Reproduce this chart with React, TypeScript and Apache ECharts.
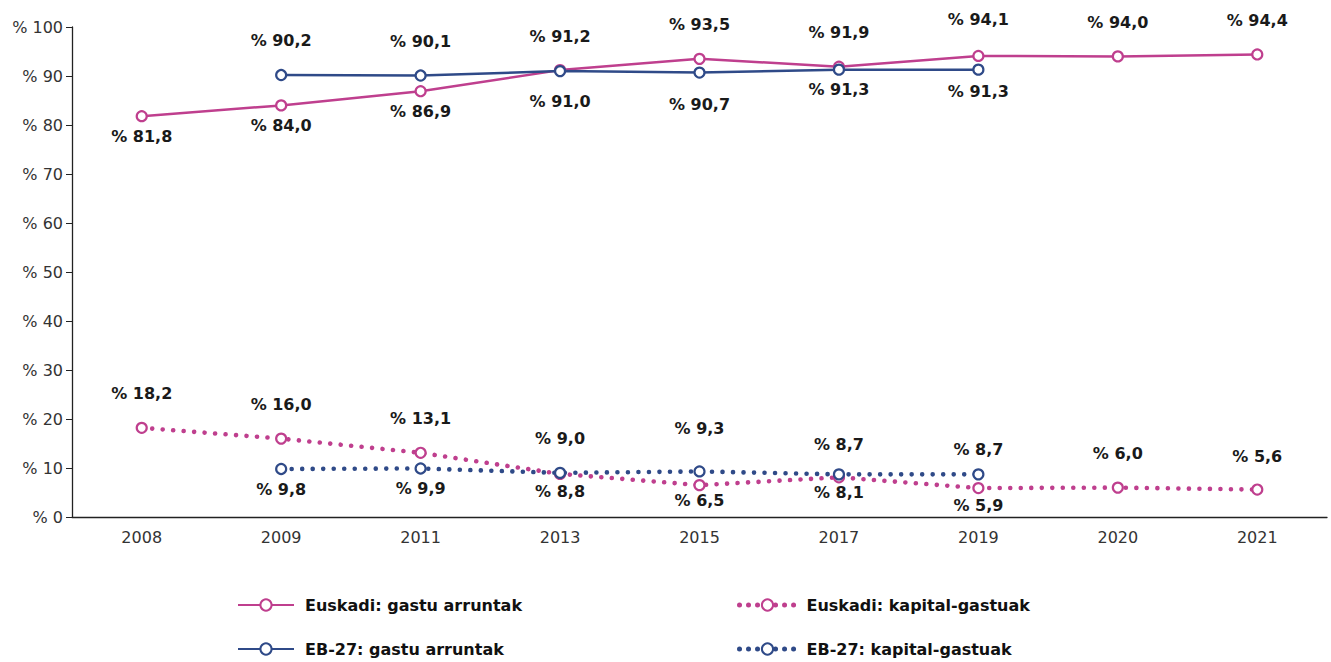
import React, { useEffect, useRef } from "react";
import * as echarts from "echarts";

// Years on the category axis
const years = ["2008", "2009", "2011", "2013", "2015", "2017", "2019", "2020", "2021"];

// Share of spending (%), Basque Country vs EU-27
const euskadiCurrent = [81.8, 84.0, 86.9, 91.2, 93.5, 91.9, 94.1, 94.0, 94.4];
const euskadiCapital = [18.2, 16.0, 13.1, 8.8, 6.5, 8.1, 5.9, 6.0, 5.6];
const eu27Current = [null, 90.2, 90.1, 91.0, 90.7, 91.3, 91.3, null, null];
const eu27Capital = [null, 9.8, 9.9, 9.0, 9.3, 8.7, 8.7, null, null];

const seriesNames = [
  "Euskadi: gastu arruntak",
  "Euskadi: kapital-gastuak",
  "EB-27: gastu arruntak",
  "EB-27: kapital-gastuak",
];

// Value-label placement per point: [side, distance]
type Place = [string, number];
const placeEuskadiCurrent: Place[] = [
  ["bottom", 6], ["bottom", 6], ["bottom", 6], ["top", 20], ["top", 20],
  ["top", 20], ["top", 22], ["top", 20], ["top", 20],
];
const placeEuskadiCapital: Place[] = [
  ["top", 20], ["top", 20], ["top", 20], ["bottom", 4], ["bottom", 1],
  ["bottom", 1], ["bottom", 3], ["top", 20], ["top", 19],
];
const placeEu27Current: Place[] = [
  ["top", 20], ["top", 20], ["top", 20], ["bottom", 16], ["bottom", 18],
  ["bottom", 6], ["bottom", 8], ["top", 20], ["top", 20],
];
const placeEu27Capital: Place[] = [
  ["top", 20], ["bottom", 6], ["bottom", 6], ["top", 20], ["top", 29],
  ["top", 16], ["top", 11], ["top", 20], ["top", 20],
];

const MAGENTA = "#bf3f8e";
const NAVY = "#2f4a88";
const FONT = "'DejaVu Sans', 'Open Sans', sans-serif";

const fmt = (v: number) => "% " + v.toFixed(1).replace(".", ",");

function buildData(values: (number | null)[], place: Place[]) {
  return values.map((v, i) =>
    v == null
      ? null
      : {
          value: v,
          label: { position: place[i][0], distance: place[i][1] },
        }
  );
}

function makeSeries(
  name: string,
  values: (number | null)[],
  place: Place[],
  color: string,
  dotted: boolean
) {
  return {
    name,
    type: "line",
    data: buildData(values, place),
    connectNulls: false,
    symbol: "circle",
    symbolSize: 10,
    itemStyle: { color: "#ffffff", borderColor: color, borderWidth: 2.2 },
    lineStyle: dotted
      ? { color, width: 4.6, type: [0.01, 10.5], cap: "round" }
      : { color, width: 2.5 },
    label: {
      show: true,
      formatter: (p: any) => fmt(p.value),
      color: "#1a1a1a",
      fontFamily: FONT,
      fontWeight: "bold",
      fontSize: 16,
    },
    emphasis: { disabled: true },
  };
}

// One legend entry, placed at a fixed spot in the 2x2 key below the plot
function legendItem(name: string, left: number, top: number, color: string, dotted: boolean) {
  return {
    data: [
      dotted
        ? {
            name,
            lineStyle: { color, width: 5, type: [0.01, 9], cap: "round" },
          }
        : name,
    ],
    left,
    top,
    padding: 0,
    itemWidth: 56,
    itemHeight: 14,
    selectedMode: false,
    textStyle: {
      color: "#111",
      fontFamily: FONT,
      fontWeight: "bold",
      fontSize: 16,
      padding: [0, 0, 0, 6],
    },
  };
}

export default function App() {
  const ref = useRef<HTMLDivElement>(null);

  useEffect(() => {
    if (!ref.current) return;
    const chart = echarts.init(ref.current, null, { renderer: "svg" });

    const axisText = {
      color: "#333",
      fontFamily: FONT,
      fontWeight: "normal",
      fontSize: 16,
    };

    chart.setOption({
      animation: false,
      backgroundColor: "#ffffff",
      grid: { left: 72, right: 4, top: 27, bottom: 145, containLabel: false },
      legend: [
        legendItem(seriesNames[0], 237, 597, MAGENTA, false),
        legendItem(seriesNames[2], 237, 641, NAVY, false),
        legendItem(seriesNames[1], 737, 597, MAGENTA, true),
        legendItem(seriesNames[3], 737, 641, NAVY, true),
      ],
      xAxis: {
        type: "category",
        data: years,
        boundaryGap: true,
        axisLine: { lineStyle: { color: "#222", width: 1.3 } },
        axisTick: { alignWithLabel: true, length: 6, lineStyle: { color: "#222" } },
        axisLabel: { ...axisText, margin: 12 },
      },
      yAxis: {
        type: "value",
        min: 0,
        max: 100,
        interval: 10,
        splitLine: { show: false },
        axisLine: { show: true, lineStyle: { color: "#222", width: 1.3 } },
        axisTick: { show: true, length: 6, lineStyle: { color: "#222" } },
        axisLabel: {
          ...axisText,
          margin: 9,
          formatter: (v: number) => "% " + v,
        },
      },
      series: [
        makeSeries(seriesNames[0], euskadiCurrent, placeEuskadiCurrent, MAGENTA, false),
        makeSeries(seriesNames[1], euskadiCapital, placeEuskadiCapital, MAGENTA, true),
        makeSeries(seriesNames[2], eu27Current, placeEu27Current, NAVY, false),
        makeSeries(seriesNames[3], eu27Capital, placeEu27Capital, NAVY, true),
      ],
    });

    return () => chart.dispose();
  }, []);

  return (
    <div
      ref={ref}
      style={{ position: "fixed", left: 0, top: 0, width: 1331, height: 662 }}
    />
  );
}
